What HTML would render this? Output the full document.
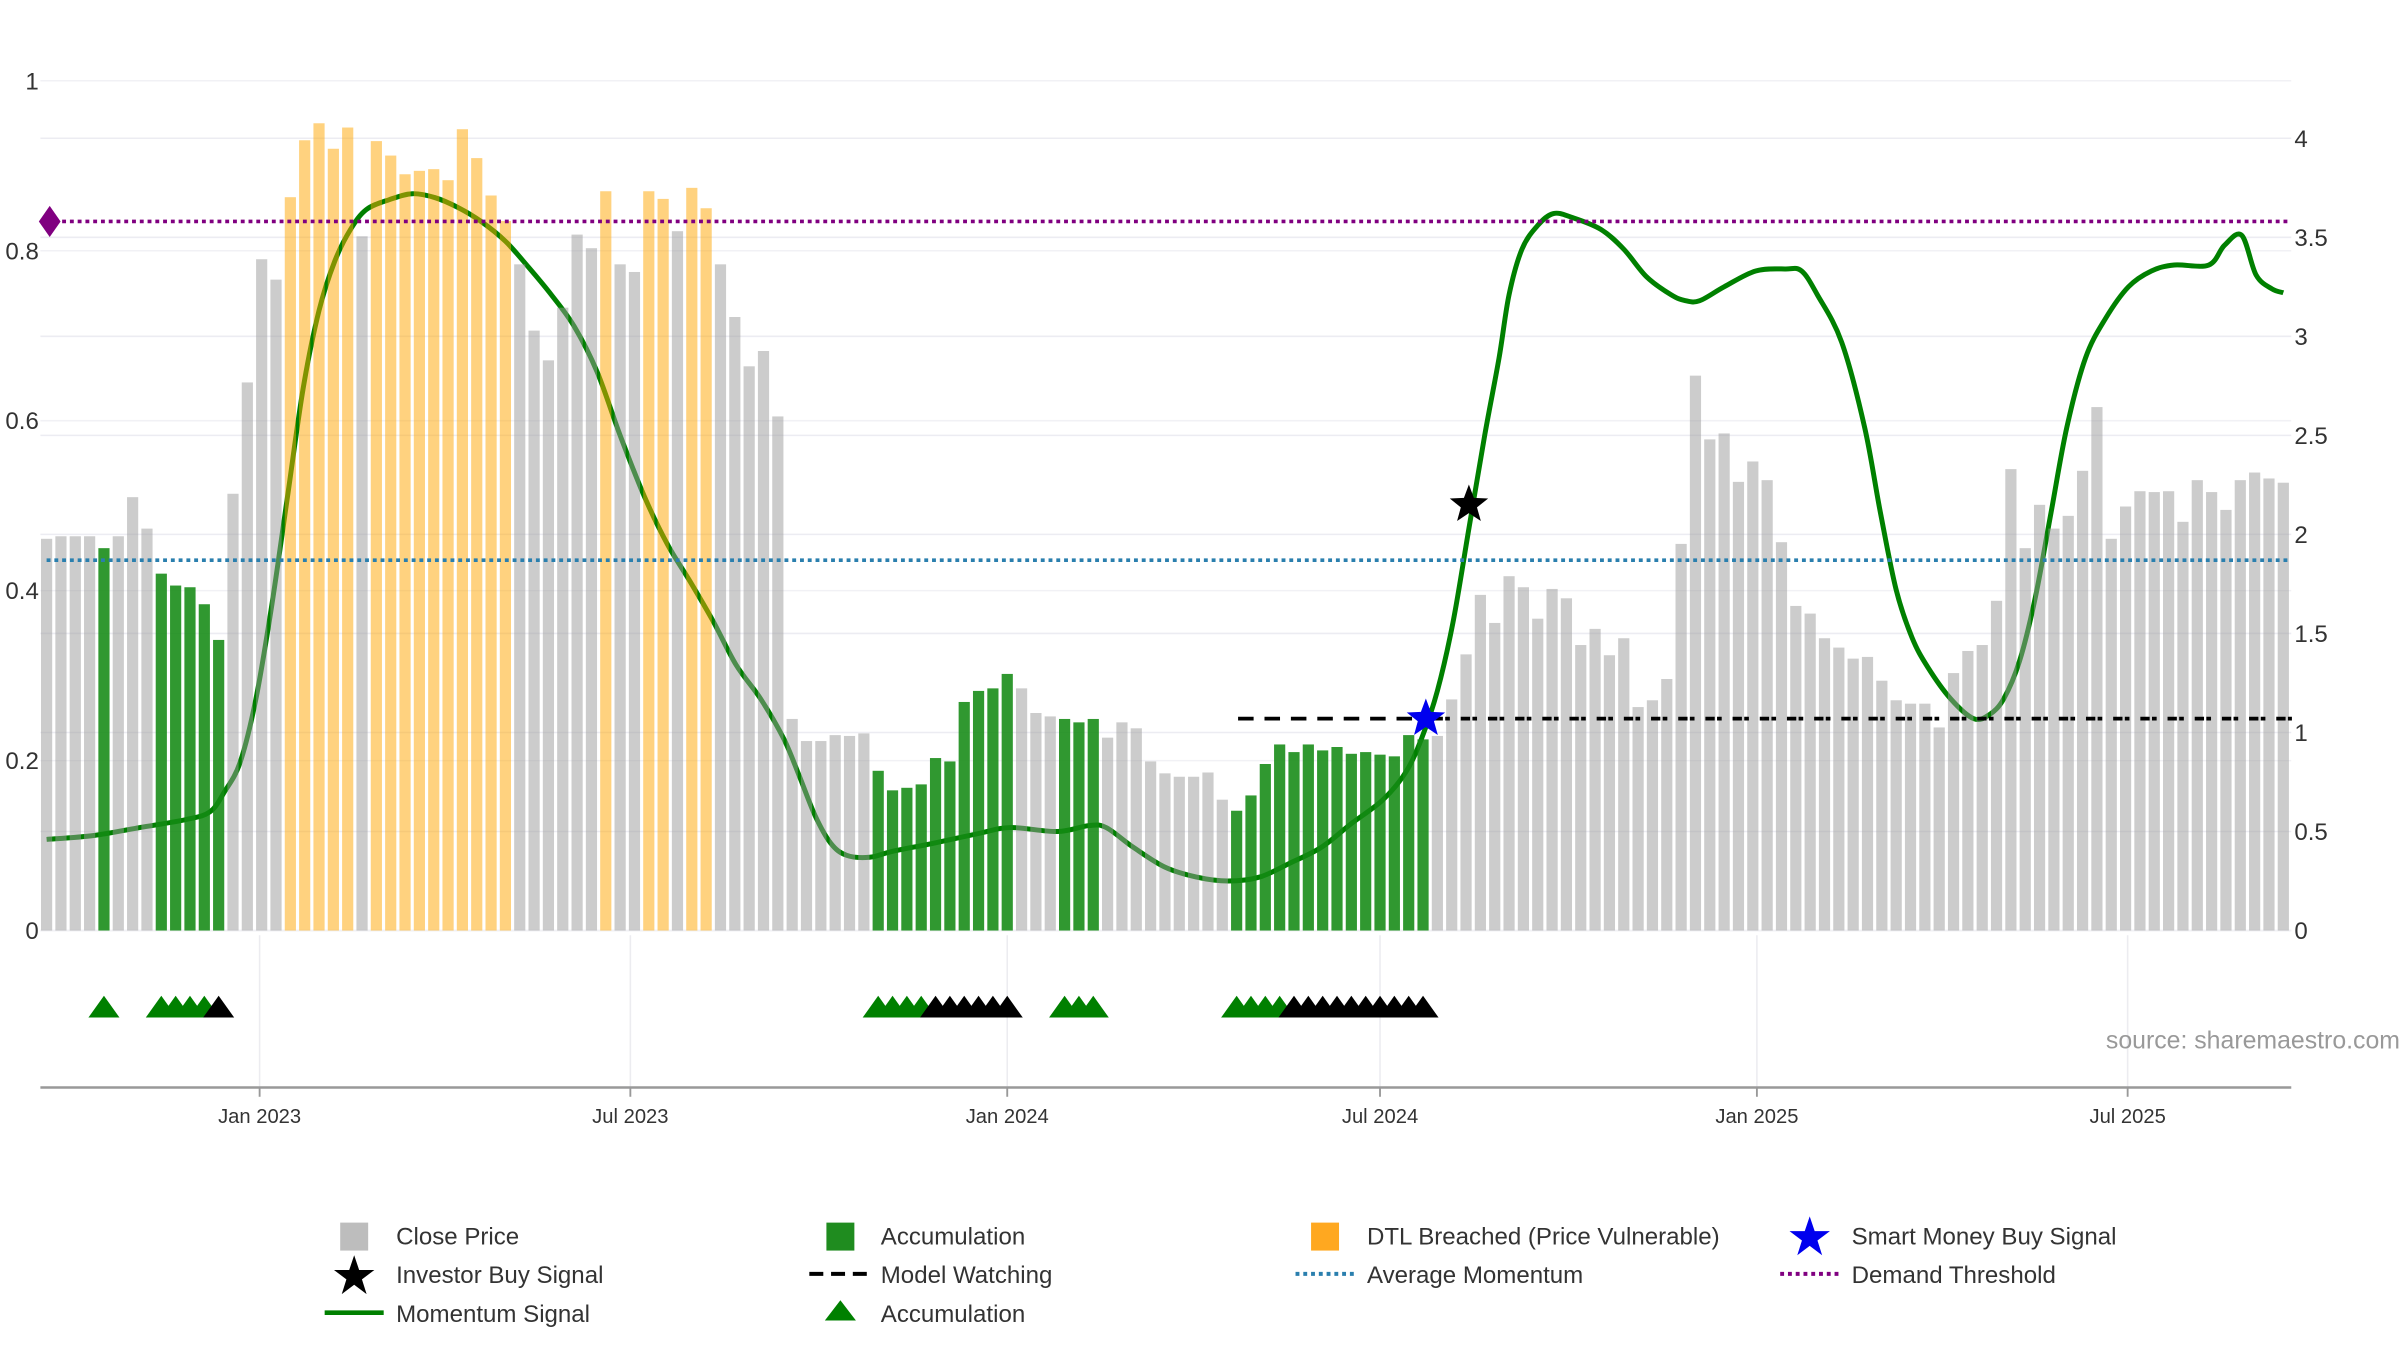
<!DOCTYPE html>
<html><head><meta charset="utf-8"><style>
html,body{margin:0;padding:0;background:#fff;}
svg{display:block;font-family:"Liberation Sans","DejaVu Sans",sans-serif;}
</style></head><body>
<svg id="chart" width="2400" height="1350" viewBox="0 0 1545 869" preserveAspectRatio="none" xmlns="http://www.w3.org/2000/svg">
<g id="grid"></g>
<g id="lineLayer"></g>
<g id="bars"></g>
<g id="overlay"></g>
<g id="axes"></g>
<text x="1545" y="675" text-anchor="end" font-size="16" fill="#999">source: sharemaestro.com</text>
<g id="legend" font-size="15.5" fill="#333">
  <g><rect x="219" y="787" width="18" height="18" fill="#bdbdbd"/><text x="255" y="801">Close Price</text></g>
  <g><rect x="532" y="787" width="18" height="18" fill="#1f8c1f"/><text x="567" y="801">Accumulation</text></g>
  <g><rect x="844" y="787" width="18" height="18" fill="#ffa820"/><text x="880" y="801">DTL Breached (Price Vulnerable)</text></g>
  <g><polygon points="1165,783 1168.2,792.5 1178,792.5 1170,798.5 1173,808 1165,802 1157,808 1160,798.5 1152,792.5 1161.8,792.5" fill="#0000ee"/><text x="1192" y="801">Smart Money Buy Signal</text></g>
  <g><polygon points="228,808 231.2,817.5 241,817.5 233,823.5 236,833 228,827 220,833 223,823.5 215,817.5 224.8,817.5" fill="#000"/><text x="255" y="826">Investor Buy Signal</text></g>
  <g><line x1="521" y1="820" x2="559" y2="820" stroke="#000" stroke-width="2.5" stroke-dasharray="9,5"/><text x="567" y="826">Model Watching</text></g>
  <g><line x1="834" y1="820" x2="872" y2="820" stroke="#2a7fae" stroke-width="2.5" stroke-dasharray="2.5,2.5"/><text x="880" y="826">Average Momentum</text></g>
  <g><line x1="1146" y1="820" x2="1184" y2="820" stroke="#800080" stroke-width="2.5" stroke-dasharray="2.5,2.5"/><text x="1192" y="826">Demand Threshold</text></g>
  <g><line x1="209" y1="845" x2="247" y2="845" stroke="#008000" stroke-width="3"/><text x="255" y="851">Momentum Signal</text></g>
  <g><polygon points="541,837 551,850 531,850" fill="#008000"/><text x="567" y="851">Accumulation</text></g>
</g>
</svg>
<script>
const priceVals = [.461,.464,.464,.464,.45,.464,.51,.473,.42,.406,.404,.384,.342,.514,.645,.79,.766,.863,.93,.95,.92,.945,.817,.929,.912,.89,.894,.896,.883,.943,.909,.865,.835,.784,.706,.671,.733,.819,.803,.87,.784,.775,.87,.861,.823,.874,.85,.784,.722,.664,.682,.605,.249,.223,.223,.23,.229,.232,.188,.165,.168,.172,.203,.199,.269,.282,.285,.302,.285,.256,.252,.249,.245,.249,.227,.245,.238,.199,.185,.181,.181,.186,.154,.141,.159,.196,.219,.21,.219,.212,.216,.208,.21,.207,.205,.23,.225,.229,.272,.325,.395,.362,.417,.404,.367,.402,.391,.336,.355,.324,.344,.263,.271,.296,.455,.653,.578,.585,.528,.552,.53,.457,.382,.373,.344,.333,.32,.322,.294,.271,.267,.267,.239,.303,.329,.336,.388,.543,.45,.501,.473,.488,.541,.616,.461,.499,.517,.516,.517,.481,.53,.516,.495,.53,.539,.532,.527];
const accumWeeks = [4,8,9,10,11,12,58,59,60,61,62,63,64,65,66,67,71,72,73,83,84,85,86,87,88,89,90,91,92,93,94,95,96];
const dtlWeeks = [17,18,19,20,21,23,24,25,26,27,28,29,30,31,32,39,42,43,45,46];
const momWeeks = [0,3.3,6.5,9.7,11.4,12.4,13.5,14.6,15.7,16.8,17.9,19,20.1,21.2,22.3,23.9,25.5,27.1,28.7,30.3,32,33.6,35.2,36.8,38.4,40,41.7,43.3,44.9,46.5,48.1,49.8,51.4,52.5,53.6,54.7,55.8,57.4,59,61.8,65,67.2,70.5,72.7,73.9,75.8,78,80.2,82.4,84.6,86.7,88.9,91,93.2,94.8,95.9,97,98.1,99.2,100.3,101.3,102,102.9,104,105.1,106.4,108.4,110,111.6,113.3,114.3,115.3,117,119.2,121.3,122.4,123.5,125.2,126.8,127.9,129,130.1,131.2,132.8,134.4,135.5,136.5,137.6,138.7,139.8,140.9,142.2,143.6,145.2,146.8,148.4,150.8,151.9,153.1,154.1,155.2,156];
const momVals = [.46,.48,.52,.56,.6,.7,.85,1.17,1.64,2.19,2.74,3.13,3.38,3.54,3.64,3.69,3.72,3.7,3.65,3.58,3.48,3.35,3.21,3.05,2.82,2.5,2.19,1.95,1.76,1.56,1.34,1.17,.97,.78,.58,.44,.38,.37,.4,.44,.49,.52,.5,.53,.52,.42,.32,.27,.25,.27,.34,.42,.54,.66,.8,.97,1.21,1.56,2.03,2.5,2.89,3.21,3.44,3.56,3.62,3.6,3.54,3.44,3.3,3.21,3.18,3.18,3.25,3.33,3.34,3.33,3.21,2.97,2.54,2.11,1.72,1.48,1.33,1.17,1.07,1.09,1.17,1.36,1.68,2.11,2.54,2.89,3.09,3.25,3.33,3.36,3.36,3.46,3.51,3.31,3.24,3.22];
const signalWeeks = [4,8,9,10,11,12,58,59,60,61,62,63,64,65,66,67,71,72,73,83,84,85,86,87,88,89,90,91,92,93,94,95,96];
const signalTypes = ['g','g','g','g','g','k','g','g','g','g','k','k','k','k','k','k','g','g','g','g','g','g','g','k','k','k','k','k','k','k','k','k','k'];
const leftTicks = [0,0.2,0.4,0.6,0.8,1];
const leftTickLabels = ['0','0.2','0.4','0.6','0.8','1'];
const rightTicks = [0,0.5,1,1.5,2,2.5,3,3.5,4];
const rightTickLabels = ['0','0.5','1','1.5','2','2.5','3','3.5','4'];
const dateTicks = ['2023-01-01','2023-07-01','2024-01-01','2024-07-01','2025-01-01','2025-07-01'];
const dateTickLabels = ['Jan 2023','Jul 2023','Jan 2024','Jul 2024','Jan 2025','Jul 2025'];
const startDate = '2022-09-19';
const demandThreshold = 3.58;
const avgMomentum = 1.87;
const watchLevel = 1.07;
const watchStart = 83.1, watchSolidEnd = 96.3, watchEnd = 156.6;
const smartWeek = 96.2, smartVal = 1.07;
const investorWeek = 99.2, investorVal = 2.15;

const NS='http://www.w3.org/2000/svg';
const X0=30, XSTEP=9.23, Y0=599;
const xW = w => X0 + w*XSTEP;
const yL = v => Y0 - v*547;
const yR = v => Y0 - v*127.5;
const xDate = d => xW((new Date(d) - new Date(startDate))/(7*864e5));
function mk(tag, attrs, parent){const e=document.createElementNS(NS,tag);for(const k in attrs)e.setAttribute(k,attrs[k]);parent.appendChild(e);return e;}
const grid=document.getElementById('grid'), bars=document.getElementById('bars'), lineLayer=document.getElementById('lineLayer'), overlay=document.getElementById('overlay'), axes=document.getElementById('axes');

rightTicks.forEach(v=>{const l=mk('line',{x1:26,x2:1475,y1:yR(v),y2:yR(v),stroke:'#ececf2','stroke-width':1},grid);

});
leftTicks.forEach(v=>{const l=mk('line',{x1:26,x2:1475,y1:yL(v),y2:yL(v),stroke:'#f1f1f5','stroke-width':1},grid);

});
dateTicks.forEach(d=>{const l=mk('line',{x1:xDate(d),x2:xDate(d),y1:602,y2:700,stroke:'#ececf0','stroke-width':1},grid);

});

// momentum line (catmull-rom)
const pts=momWeeks.map((w,i)=>[xW(w),yR(momVals[i])]);
let d='M'+pts[0][0]+','+pts[0][1];
for(let i=0;i<pts.length-1;i++){const p0=pts[Math.max(0,i-1)],p1=pts[i],p2=pts[i+1],p3=pts[Math.min(pts.length-1,i+2)];
d+=' C'+(p1[0]+(p2[0]-p0[0])/6)+','+(p1[1]+(p2[1]-p0[1])/6)+' '+(p2[0]-(p3[0]-p1[0])/6)+','+(p2[1]-(p3[1]-p1[1])/6)+' '+p2[0]+','+p2[1];}
const ml=mk('path',{d:d,fill:'none',stroke:'#008000','stroke-width':3.2,'stroke-linejoin':'round'},lineLayer);



priceVals.forEach((v,i)=>{
  let fill='#999999',op=0.5,name='close-price-bar';
  if(accumWeeks.includes(i)){fill='#138a13';op=0.88;name='accumulation-bar';}
  else if(dtlWeeks.includes(i)){fill='#ffa500';op=0.5;name='dtl-breached-bar';}
  const r=mk('rect',{x:xW(i)-3.6,y:yL(v),width:7.2,height:Y0-yL(v),fill:fill,'fill-opacity':op},bars);
  
  
});

// threshold lines
const dl=mk('line',{x1:30,x2:1475,y1:yR(demandThreshold),y2:yR(demandThreshold),stroke:'#800080','stroke-width':2.3,'stroke-dasharray':'2.5,2.5'},overlay);


const al=mk('line',{x1:30,x2:1475,y1:yR(avgMomentum),y2:yR(avgMomentum),stroke:'#2a7fae','stroke-width':2.3,'stroke-dasharray':'2.5,2.5'},overlay);


const dy=yR(demandThreshold);
const dm=mk('polygon',{points:`32,${dy-10} 39,${dy} 32,${dy+10} 25,${dy}`,fill:'#800080'},overlay);


const wy=yR(watchLevel);
const w1=mk('line',{x1:xW(watchStart),x2:xW(watchSolidEnd),y1:wy,y2:wy,stroke:'#000','stroke-width':2.4,'stroke-dasharray':'10,7'},overlay);


const w2=mk('line',{x1:xW(watchSolidEnd)+4,x2:xW(watchEnd),y1:wy,y2:wy,stroke:'#000','stroke-width':2.4,'stroke-dasharray':'6,1.5,3,7'},overlay);



function star(cx,cy,R,fill,name){let p=[];for(let k=0;k<10;k++){const a=-Math.PI/2+k*Math.PI/5,r=k%2?R*0.42:R;p.push((cx+r*Math.cos(a)).toFixed(1)+','+(cy+r*Math.sin(a)).toFixed(1));}
const s=mk('polygon',{points:p.join(' '),fill:fill},overlay);

}
star(xW(smartWeek),yR(smartVal),13,'#0000ee','smart-money-buy-star');
star(xW(investorWeek),yR(investorVal),13,'#000','investor-buy-star');

signalWeeks.forEach((w,i)=>{const cx=xW(w);
  const t=mk('polygon',{points:`${cx},641 ${cx+10},655 ${cx-10},655`,fill:signalTypes[i]==='g'?'#008000':'#000'},overlay);
  
  });

// axes
const xa=mk('line',{x1:26,x2:1475,y1:700,y2:700,stroke:'#999','stroke-width':1.6},axes);


dateTicks.forEach((dd,i)=>{const x=xDate(dd);
  const tk=mk('line',{x1:x,x2:x,y1:700,y2:706,stroke:'#999','stroke-width':1.2},axes);
  
  
  const t=mk('text',{x:x,y:723,'text-anchor':'middle','font-size':13,fill:'#333'},axes);t.textContent=dateTickLabels[i];
  
  });
leftTicks.forEach((v,i)=>{const t=mk('text',{x:25,y:yL(v)+5.5,'text-anchor':'end','font-size':15.5,fill:'#333'},axes);t.textContent=leftTickLabels[i];
  
  });
rightTicks.forEach((v,i)=>{const t=mk('text',{x:1477,y:yR(v)+5.5,'text-anchor':'start','font-size':15.5,fill:'#333'},axes);t.textContent=rightTickLabels[i];
  
  });
</script>
</body></html>
